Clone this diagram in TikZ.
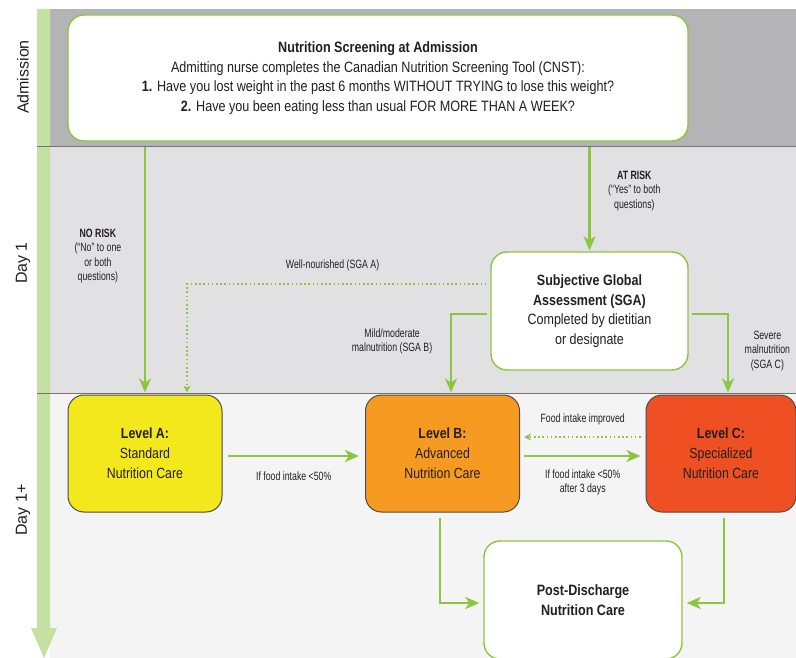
\documentclass[tikz,border=0pt]{standalone}
\usepackage{fontspec}
\setmainfont{Liberation Sans}[FakeStretch=0.84]
\newfontfamily\sidefont{Liberation Sans}
\newfontfamily\tinyfont{Liberation Sans}[FakeStretch=0.73]
\usepackage{tikz}
\usetikzlibrary{positioning, arrows.meta, calc}

\definecolor{flowgreen}{HTML}{8CC63F}
\definecolor{stripgreen}{HTML}{C5E0A3}
\definecolor{admgray}{HTML}{B4B4B7}
\definecolor{dayonegray}{HTML}{E1E1E3}
\definecolor{daylatergray}{HTML}{F4F4F4}
\definecolor{levelyellow}{HTML}{F2E81C}
\definecolor{levelorange}{HTML}{F79A22}
\definecolor{levelred}{HTML}{EF5023}
\definecolor{textdark}{HTML}{231F20}

\begin{document}
\begin{tikzpicture}[x=1pt, y=-1pt, text=textdark,
    whitebox/.style={draw=flowgreen, line width=1.4pt, fill=white, rounded corners=16pt, align=center},
    levelbox/.style={draw=black!70, line width=1pt, rounded corners=16pt, minimum width=154pt, minimum height=117pt, align=center, font=\fontsize{14.7}{20}\selectfont},
    flow/.style={draw=flowgreen, line width=2.8pt, -{Stealth[length=14pt, width=12pt, inset=4pt]}},
    dotflow/.style={draw=flowgreen, line width=1.8pt, dash pattern=on 1.6pt off 2.6pt, -{Stealth[length=7pt, width=7pt, inset=2pt]}},
    lbl/.style={align=center, font=\tinyfont\fontsize{12}{14.5}\selectfont},
    bandlbl/.style={rotate=90, font=\sidefont\fontsize{16}{16}\selectfont, text=black!88}]
        \useasboundingbox (0,0) rectangle (796,658);

        % Bandas de tiempo
        \fill[admgray] (50,9) rectangle (796,147);
        \fill[dayonegray] (50,147) rectangle (796,393);
        \fill[daylatergray] (50,393) rectangle (796,658);
        \fill[stripgreen] (37,9) -- (50,9) -- (50,628) -- (57,628) -- (44,658) -- (31,628) -- (37,628) -- cycle;
        \coordinate (dayone) at (37,147);
        \coordinate (daylater) at (37,393);
        \draw[black!55, line width=1pt] (dayone) -- (796,147);
        \draw[black!55, line width=1pt] (daylater) -- (796,393);

        \node[bandlbl] (admlbl) at (23,77) {Admission};
        \node[bandlbl] (dayonelbl) at (23,263) {Day 1};
        \node[bandlbl] (daylaterlbl) at (23,510) {Day 1+};

        % Cribado y SGA
        \node[whitebox, minimum width=620pt, minimum height=126pt, font=\fontsize{15}{19.5}\selectfont] (screen) at (378,78) {\textbf{Nutrition Screening at Admission}\\ Admitting nurse completes the Canadian Nutrition Screening Tool (CNST):\\ \textbf{1.} Have you lost weight in the past 6 months WITHOUT TRYING to lose this weight?\\ \textbf{2.} Have you been eating less than usual FOR MORE THAN A WEEK?};
        \node[whitebox, minimum width=197pt, minimum height=118pt, font=\fontsize{14.9}{19.5}\selectfont, right of=screen, node distance=211.5pt, yshift=-233pt] (sga) {\textbf{Subjective Global}\\ \textbf{Assessment (SGA)}\\ Completed by dietitian\\ or designate};

        % Niveles de cuidado
        \node[levelbox, fill=levelyellow] (levA) at (145,453.5) {\textbf{Level A:}\\ Standard\\ Nutrition Care};
        \node[levelbox, fill=levelorange, right of=levA, node distance=297.5pt] (levB) {\textbf{Level B:}\\ Advanced\\ Nutrition Care};
        \node[levelbox, fill=levelred, minimum width=150pt, right of=levB, node distance=278.5pt] (levC) {\textbf{Level C:}\\ Specialized\\ Nutrition Care};
        \node[whitebox, minimum width=198pt, minimum height=118pt, font=\bfseries\fontsize{15}{19.5}\selectfont, below of=levB, node distance=146.5pt, xshift=140.5pt] (post) {Post-Discharge\\ Nutrition Care};

        % Conexiones
        \draw[flow, shorten >=2pt] (levA |- dayone) -- node[lbl, pos=0.44, left=19pt] {\textbf{NO RISK}\\ (“No” to one\\ or both\\ questions)} (levA.north);
        \draw[flow, shorten >=1pt] (sga |- dayone) -- node[lbl, pos=0.42, right=14pt] {\textbf{AT RISK}\\ (“Yes” to both\\ questions)} (sga.north);
        \draw[dotflow, shorten <=4pt, shorten >=2pt] ([yshift=27pt]sga.west) -| node[lbl, pos=0.26, above=9pt] {Well-nourished (SGA A)} ([xshift=42pt]levA.north);
        \draw[flow, shorten <=3pt, shorten >=2pt] ([yshift=-3pt]sga.west) -| node[lbl, pos=0.67, left=14pt] {Mild/moderate\\ malnutrition (SGA B)} ([xshift=8.5pt]levB.north);
        \draw[flow, shorten <=3pt, shorten >=2pt] ([yshift=-3pt]sga.east) -| node[lbl, pos=0.73, right=12pt] {Severe\\ malnutrition\\ (SGA C)} ([xshift=7pt]levC.north);

        \draw[flow, shorten <=5pt, shorten >=6pt] ([yshift=-2.5pt]levA.east) -- node[lbl, below=11pt] {If food intake <50\%} ([yshift=-2.5pt]levB.west);
        \draw[flow, shorten <=4pt, shorten >=5pt] ([yshift=-2.5pt]levB.east) -- node[lbl, below=9pt] {If food intake <50\%\\ after 3 days} ([yshift=-2.5pt]levC.west);
        \draw[dotflow, shorten <=5pt, shorten >=4pt] ([yshift=16.5pt]levC.west) -- node[lbl, above=8pt] {Food intake improved} ([yshift=16.5pt]levB.east);

        \draw[flow, shorten <=5pt, shorten >=4pt] ([xshift=-2.5pt]levB.south) |- ([yshift=-3pt]post.west);
        \draw[flow, shorten <=5pt, shorten >=4pt] ([xshift=3pt]levC.south) |- ([yshift=-3pt]post.east);

    \end{tikzpicture}
\end{document}
